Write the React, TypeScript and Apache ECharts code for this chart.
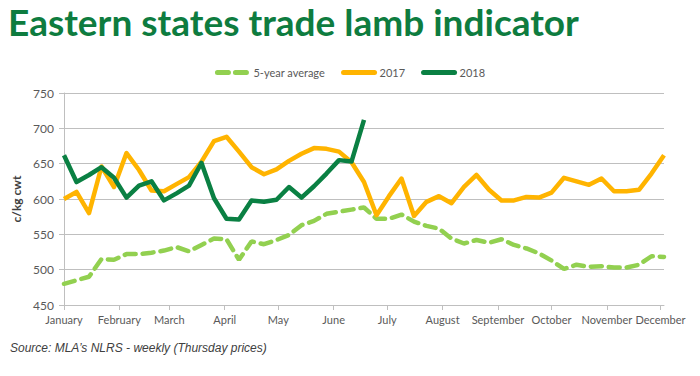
import React, { useEffect, useRef } from "react";
import * as echarts from "echarts";

const monthNames = ["January", "February", "March", "April", "May", "June", "July", "August", "September", "October", "November", "December"];
const monthStartDays = [0, 31, 59, 90, 120, 151, 181, 212, 243, 273, 304, 334];

const avg5 = [480, 485, 490, 515, 514, 522, 522, 524, 527, 532, 526, 535, 544, 543, 514, 540, 536, 542, 549, 563, 569, 579, 582, 585, 588, 572, 572, 578, 568, 562, 558, 544, 537, 542, 538, 543, 535, 530, 523, 513, 501, 507, 504, 505, 503, 503, 507, 519, 518];
const y2017 = [600, 610, 580, 646, 617, 665, 641, 612, 611, 621, 631, 653, 682, 688, 667, 645, 635, 642, 654, 664, 672, 671, 667, 652, 624, 577, 604, 629, 576, 596, 604, 594, 617, 634, 613, 598, 598, 603, 602, 609, 630, 625, 620, 629, 611, 611, 613, 636, 662];
const y2018 = [662, 624, 634, 645, 630, 602, 619, 625, 598, 608, 619, 651, 601, 572, 571, 598, 596, 599, 617, 602, 618, 636, 655, 653, 712];

const weekly = (vals: number[]) => vals.map((v, i) => [i * 7, v]);

const FONT = "Lato, 'Noto Sans', sans-serif";
const GRAY = "#595959";

export default function App() {
  const ref = useRef<HTMLDivElement>(null);
  useEffect(() => {
    if (!ref.current) return;
    const chart = echarts.init(ref.current, null, { renderer: "svg" });
    chart.setOption({
      animation: false,
      backgroundColor: "#ffffff",
      textStyle: { fontFamily: FONT },
      graphic: [
        {
          type: "text",
          left: 8,
          top: 3,
          style: {
            text: "Eastern states trade lamb indicator",
            font: "bold 37px Lato, 'Noto Sans', sans-serif",
            fill: "#0E7C3F",
          },
        },
        {
          type: "text",
          left: 10,
          top: 342,
          style: {
            text: "Source: MLA\u2019s NLRS - weekly (Thursday prices)",
            font: "italic 12px 'Liberation Sans', Arial, sans-serif",
            fill: "#404040",
          },
        },
      ],
      legend: {
        top: 62,
        left: "center",
        itemWidth: 31,
        itemHeight: 10,
        itemGap: 16,
        itemStyle: { opacity: 0 },
        lineStyle: { width: 5, cap: "round" },
        textStyle: { color: GRAY, fontSize: 11, fontFamily: FONT },
        data: ["5-year average", "2017", "2018"],
      },
      grid: { left: 64, right: 36, top: 93, bottom: 71, containLabel: false },
      xAxis: {
        type: "value",
        min: 0,
        max: 336,
        splitLine: { show: false },
        axisLine: { show: true, lineStyle: { color: "#BFBFBF", width: 1 } },
        axisTick: { show: true, length: 5, customValues: monthStartDays, lineStyle: { color: "#BFBFBF" } },
        axisLabel: {
          customValues: monthStartDays,
          color: GRAY,
          fontSize: 11,
          margin: 9,
          formatter: (v: number) => {
            const i = monthStartDays.indexOf(Math.round(v));
            return i >= 0 ? monthNames[i] : "";
          },
        },
      },
      yAxis: {
        type: "value",
        min: 450,
        max: 750,
        interval: 50,
        name: "c/kg cwt",
        nameLocation: "middle",
        nameGap: 33,
        nameTextStyle: { color: "#404040", fontSize: 12, fontWeight: "bold", fontFamily: FONT },
        axisLine: { show: true, lineStyle: { color: "#BFBFBF", width: 1 } },
        axisTick: { show: true, length: 5, lineStyle: { color: "#BFBFBF" } },
        axisLabel: { color: GRAY, fontSize: 12, margin: 10 },
        splitLine: { show: true, lineStyle: { color: "#BFBFBF", width: 1 } },
      },
      series: [
        {
          name: "5-year average",
          type: "line",
          data: weekly(avg5),
          symbol: "none",
          color: "#92D050",
          lineStyle: { color: "#92D050", width: 4.5, type: [11, 7], cap: "round" },
          z: 2,
        },
        {
          name: "2017",
          type: "line",
          data: weekly(y2017),
          symbol: "none",
          color: "#FFB400",
          lineStyle: { color: "#FFB400", width: 4.5, join: "round" },
          z: 3,
        },
        {
          name: "2018",
          type: "line",
          data: weekly(y2018),
          symbol: "none",
          color: "#0A8043",
          lineStyle: { color: "#0A8043", width: 4.5, join: "round" },
          z: 4,
        },
      ],
    });
    return () => chart.dispose();
  }, []);
  return <div ref={ref} style={{ width: 700, height: 376, position: "absolute", left: 0, top: 0 }} />;
}
